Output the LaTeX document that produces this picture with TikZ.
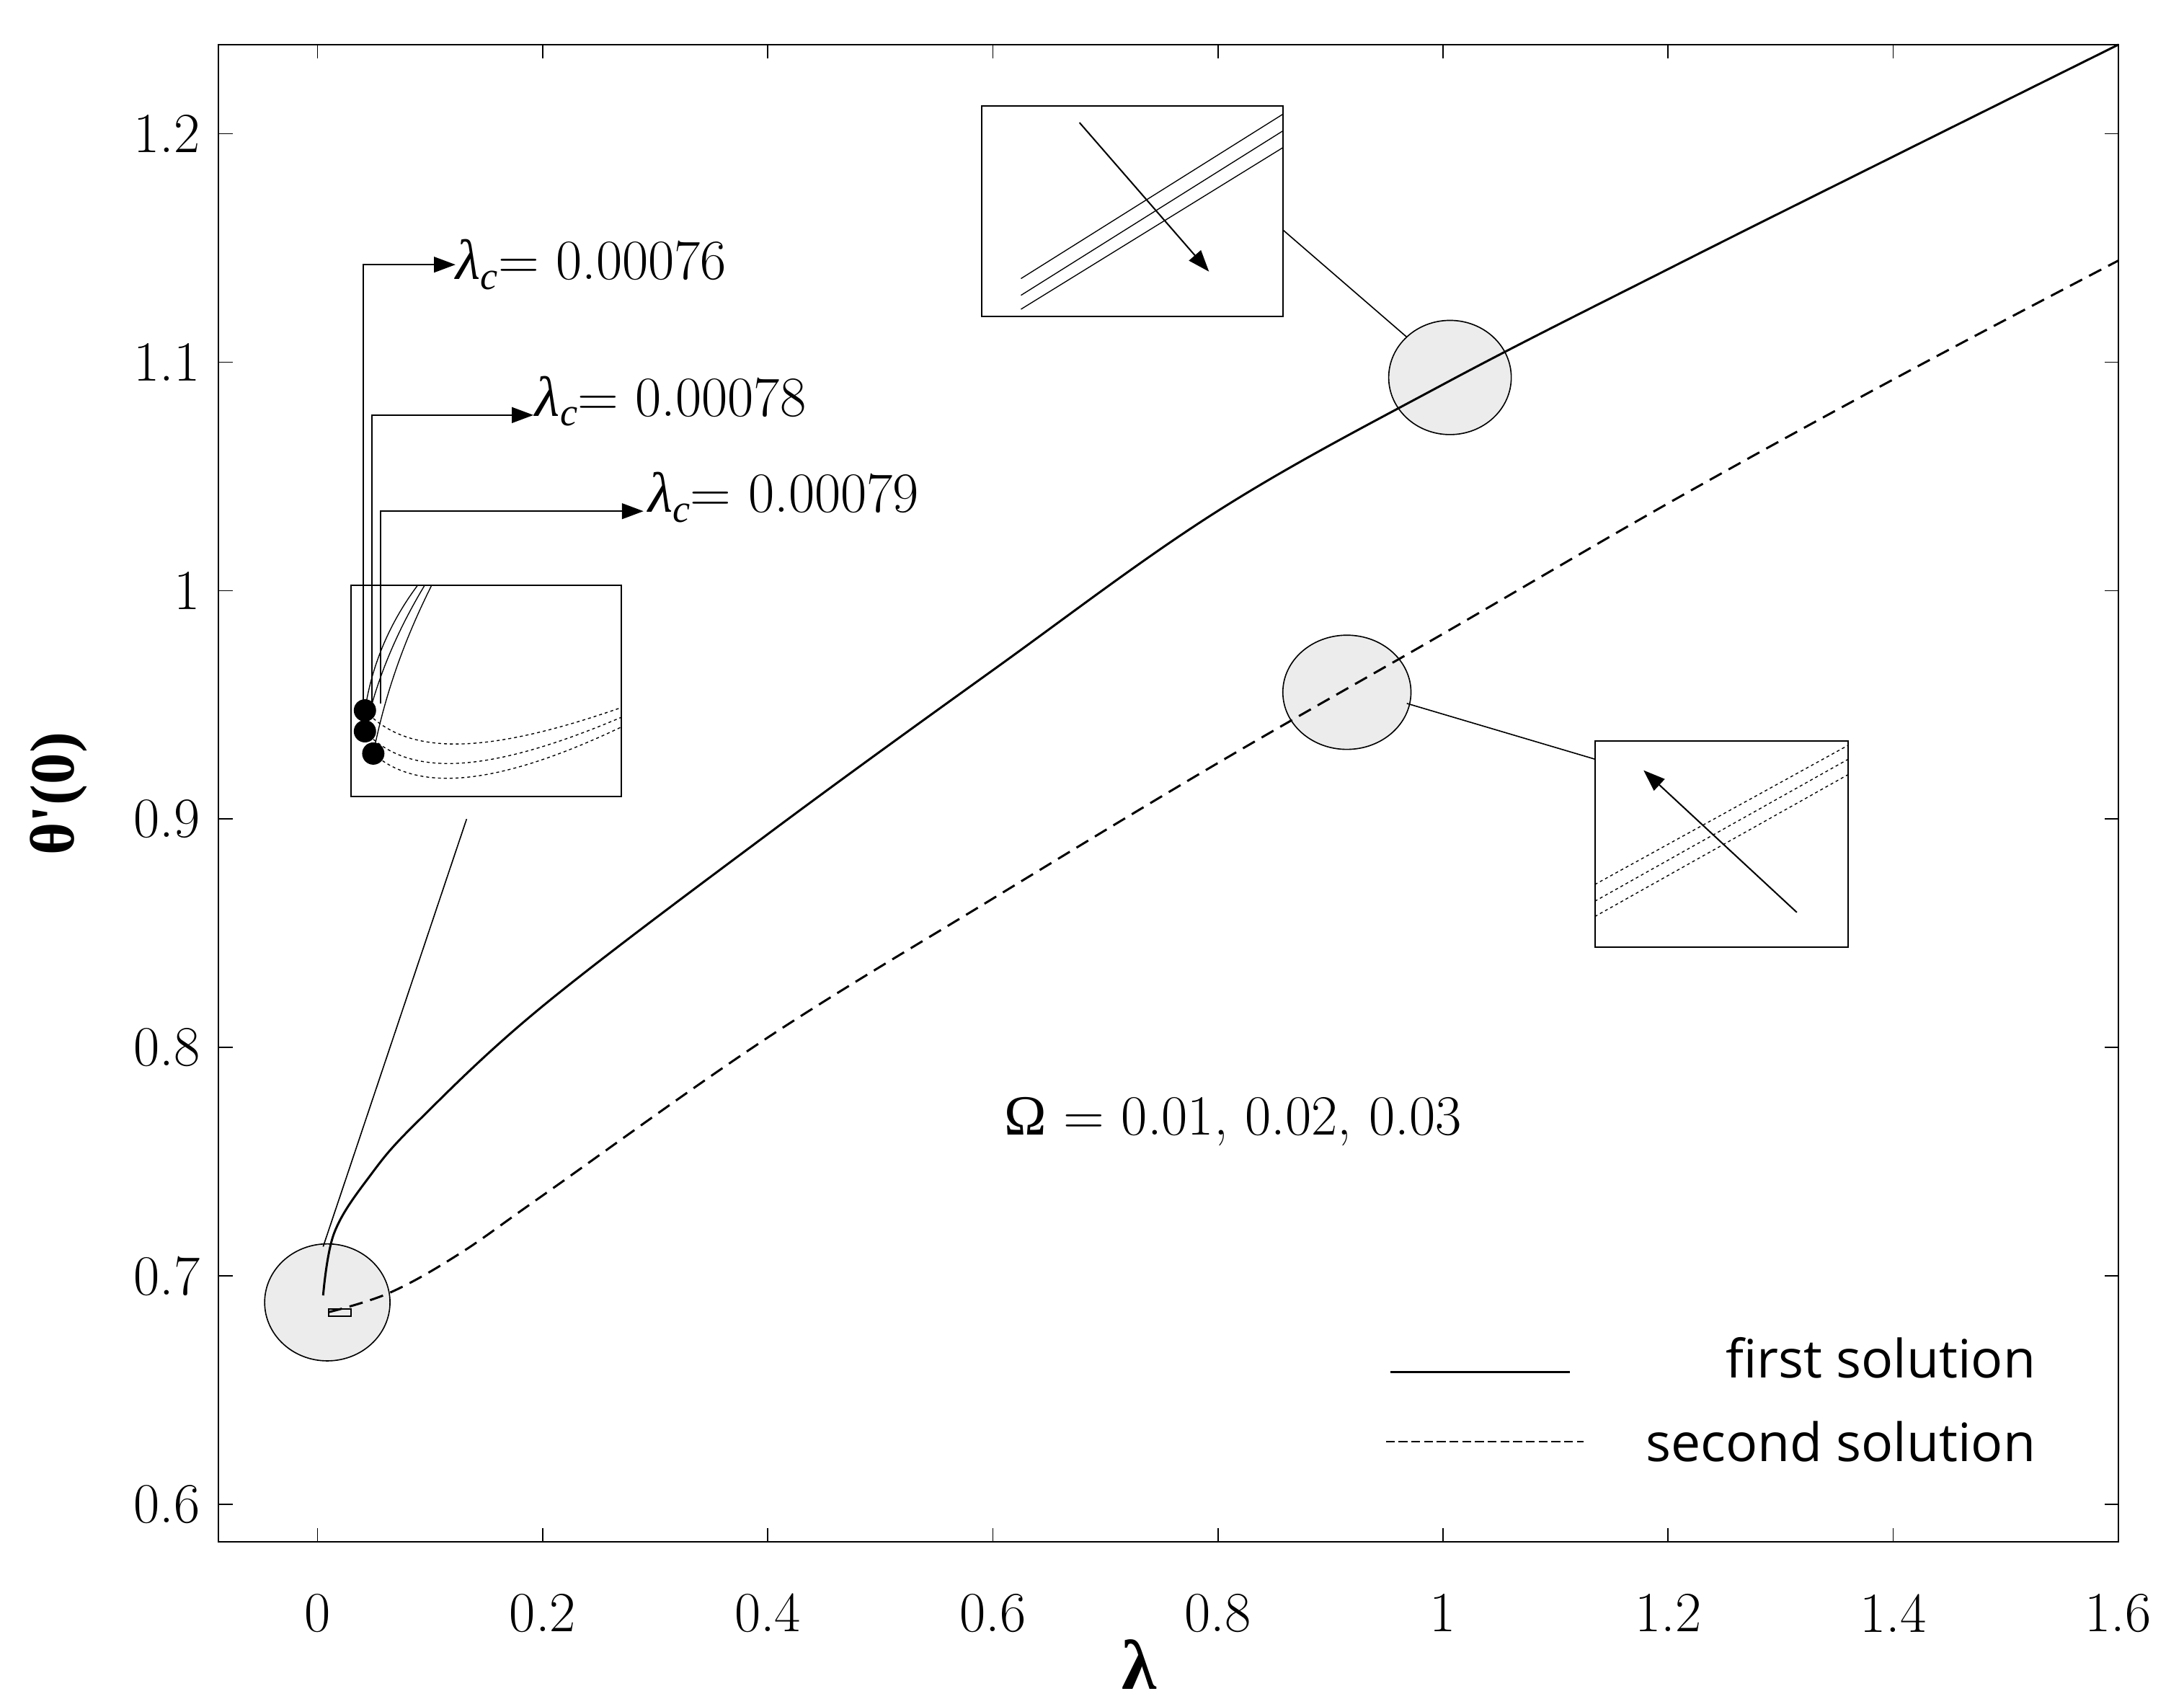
\documentclass[tikz,border=0pt]{standalone}
\usepackage{fontspec}
\newfontfamily\legfont{Open Sans}
\newfontfamily\grk{Liberation Serif}
\usetikzlibrary{arrows.meta}
\newcommand{\lamc}{{\grk\itshape λ}{\fontsize{40}{44}\selectfont\raisebox{-0.25em}{\grk\itshape c}}}
\begin{document}
\begin{tikzpicture}[x=0.05cm,y=-0.05cm,
  tick/.style={font=\fontsize{58}{64}\selectfont},
  lab/.style={font=\fontsize{58}{64}\selectfont,anchor=west},
  mag/.style={draw=black,fill=gray!15,line width=1.2pt},
  inbox/.style={draw=black,line width=1.5pt,fill=white},
  conn/.style={line width=1.2pt},
  arr/.style={line width=1.5pt,-{Triangle[length=22pt,width=16pt]}},
  curve/.style={line width=2.2pt},
  dcurve/.style={line width=2.2pt,dash pattern=on 14pt off 8pt}]
\useasboundingbox (0,0) rectangle (1568,1223);
% frame
\draw[line width=1.5pt] (157,32) rectangle (1521,1107);
\foreach \i/\t in {0/0,1/0.2,2/0.4,3/0.6,4/0.8,5/1,6/1.2,7/1.4,8/1.6}{
  \pgfmathsetmacro\xx{228+\i*161.6}
  \draw[line width=1.2pt] (\xx,1107) -- (\xx,1097) (\xx,32) -- (\xx,42);
  \node[tick] (xt\i) at (\xx,1158) {\t};
}
\foreach \i/\t in {0/0.6,1/0.7,2/0.8,3/0.9,4/1,5/1.1,6/1.2}{
  \pgfmathsetmacro\yy{1080-\i*164}
  \draw[line width=1.2pt] (157,\yy) -- (167,\yy) (1521,\yy) -- (1511,\yy);
  \node[tick,anchor=east] (yt\i) at (146,\yy) {\t};
}
\node[font=\grk\fontsize{64}{70}\selectfont\bfseries,rotate=90] (ylab) at (42,570) {θ'(0)};
\node[font=\grk\fontsize{72}{76}\selectfont\bfseries] (xlab) at (818,1195) {λ};
% magnifier ellipses
\draw[mag] (235,935) ellipse (45 and 42);
\draw[mag] (1041,271) ellipse (44 and 41);
\draw[mag] (967,497) ellipse (46 and 41);
% curves
\draw[curve] plot[smooth,tension=0.6] coordinates {(232,930) (240,885) (265,845) (300,805) (390,722) (551,599) (713,481) (874,367) (1036,276) (1200,192) (1360,112) (1521,32)};
\draw[dcurve] plot[smooth,tension=0.6] coordinates {(236,942) (280,928) (330,900) (390,858) (551,745) (713,645) (874,548) (1036,455) (1200,360) (1360,272) (1521,187)};
\draw[line width=1.5pt] (236,940) rectangle (252,945);
% top inset
\draw[inbox] (705,76) rectangle (921,227);
\begin{scope}
\clip (705,76) rectangle (921,227);
\draw[line width=1pt] (733,200) -- (921,82) (733,212) -- (921,94) (733,222) -- (921,106);
\end{scope}
\draw[arr] (775,88) -- (868,195);
\coordinate (c1) at (921,165);
\draw[conn] (c1) -- (1010,242);
% lower inset
\draw[inbox] (1145,532) rectangle (1327,680);
\begin{scope}
\clip (1145,532) rectangle (1327,680);
\draw[line width=1pt,dashed] (1145,635) -- (1327,535) (1145,647) -- (1327,545) (1145,658) -- (1327,556);
\end{scope}
\draw[arr] (1290,655) -- (1180,553);
\draw[conn] (1145,545) -- (1010,505);
% left inset
\draw[inbox] (252,420) rectangle (446,572);
\begin{scope}
\clip (252,420) rectangle (446,572);
\draw[line width=1pt] (262,510) .. controls (268,470) and (285,440) .. (300,420);
\draw[line width=1pt] (262,525) .. controls (272,480) and (290,445) .. (305,420);
\draw[line width=1pt] (268,541) .. controls (278,490) and (295,450) .. (310,420);
\draw[line width=1pt,dashed] (262,510) .. controls (290,540) and (340,545) .. (446,508);
\draw[line width=1pt,dashed] (262,525) .. controls (290,555) and (340,560) .. (446,515);
\draw[line width=1pt,dashed] (268,541) .. controls (295,565) and (345,570) .. (446,522);
\end{scope}
\fill (262,510) circle (8) (262,525) circle (8) (268,541) circle (8);
\draw[conn] (335,588) -- (232,895);
% lambda_c labels
\draw[arr] (261,505) -- (261,190) -- (327,190);
\draw[arr] (267,505) -- (267,298) -- (383,298);
\draw[arr] (273,505) -- (273,367) -- (462,367);
\node[lab] (l1) at (325,190) {\lamc= 0.00076};
\node[lab] (l2) at (382,288) {\lamc= 0.00078};
\node[lab] (l3) at (463,357) {\lamc= 0.00079};
\node[font=\fontsize{58}{64}\selectfont] (om) at (885,805) {{\grk Ω} = 0.01, 0.02, 0.03};
% legend
\draw[line width=2.5pt] (998,985) -- (1127,985);
\draw[line width=1.5pt,dash pattern=on 9pt off 4pt] (995,1035) -- (1137,1035);
\node[font=\legfont\fontsize{54}{60}\selectfont,anchor=east] (lg1) at (1464,975) {first solution};
\node[font=\legfont\fontsize{54}{60}\selectfont,anchor=east] (lg2) at (1464,1035) {second solution};
\end{tikzpicture}
\end{document}
